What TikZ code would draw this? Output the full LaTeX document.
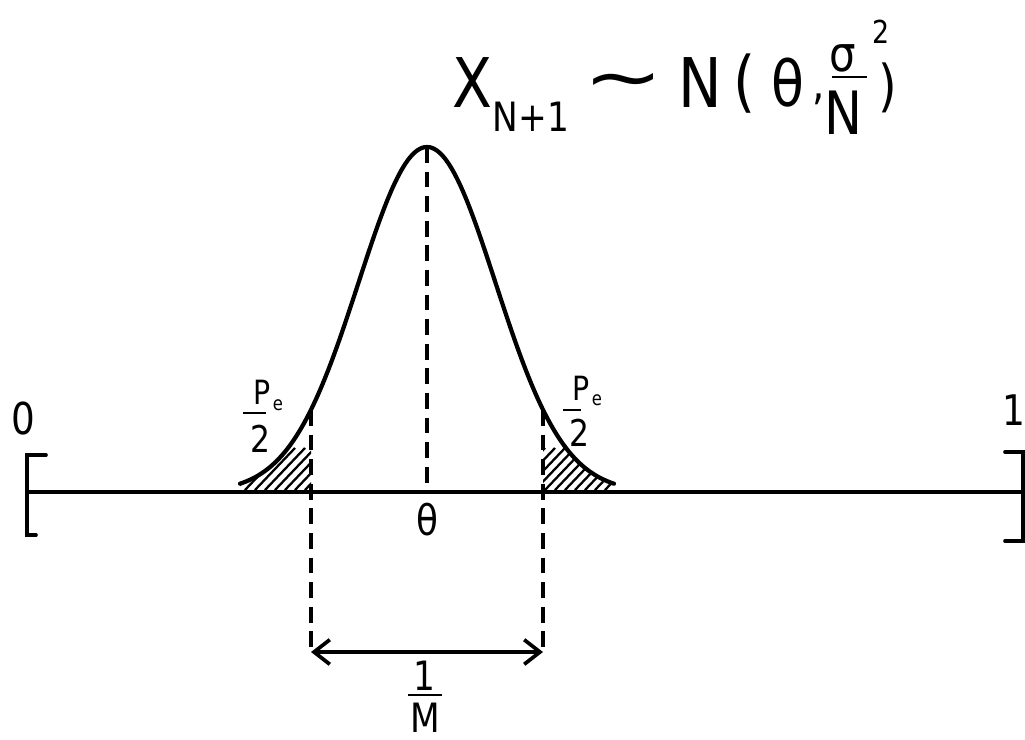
\documentclass[tikz,border=0pt]{standalone}
\usepackage{fontspec}
\setmainfont[FakeStretch=0.85]{DejaVu Sans}
\usetikzlibrary{arrows.meta}
\tikzset{
  ln/.style={line width=2.1pt, line cap=round},
  crv/.style={line width=2.4pt, line cap=round},
  dsh/.style={line width=1.9pt, dash pattern=on 9pt off 5pt},
  hatch/.style={line width=1.3pt},
  lbl/.style={inner sep=0pt, anchor=center},
}
\newcommand{\fs}[1]{\fontsize{#1}{#1}\selectfont}
\begin{document}
\begin{tikzpicture}[x=0.02cm, y=-0.02cm]
\useasboundingbox[fill=white] (0,0) rectangle (1025,740);
% axis and brackets
\coordinate (a0) at (27,492);
\coordinate (a1) at (1025,492);
\draw[ln] (a0) -- (a1);
\draw[ln] (46,455) -- (27,455) -- (27,535) -- (36,535);
\draw[ln] (1005,452) -- (1023,452) -- (1023,541);
\draw[ln] (1005,541) -- (1025,541);
\node[lbl, font=\fs{25}] (zero) at (23,419) {0};
\node[lbl, font=\fs{24}] (one) at (1014,410) {1};
% curve
\draw[crv] plot[domain=-187:187, samples=121, smooth] ({427+\x},{492-345*exp(-(\x/96.87)^2)});
% hatching
\begin{scope}
\clip plot[domain=-187:-116, samples=30, smooth] ({427+\x},{492-345*exp(-(\x/96.87)^2)}) -- (311,492) -- (240,492) -- cycle;
\foreach \i in {0,...,11} { \draw[hatch] ({205+10*\i},490) -- ({245+10*\i},448); }
\end{scope}
\begin{scope}
\clip plot[domain=116:187, samples=30, smooth] ({427+\x},{492-345*exp(-(\x/96.87)^2)}) -- (612,492) -- (543,492) -- cycle;
\foreach \i in {0,...,11} { \draw[hatch] ({505+10*\i},490) -- ({545+10*\i},448); }
\end{scope}
% dashed lines
\coordinate (peak) at (427,147);
\coordinate (th) at (427,492);
\coordinate (l1) at (311,410);
\coordinate (l2) at (311,652);
\coordinate (r1) at (543,410);
\coordinate (r2) at (543,652);
\draw[dsh] (peak) -- (th);
\draw[dsh] (l1) -- (l2);
\draw[dsh] (r1) -- (r2);
\draw[ln, {Straight Barb[length=9pt,width=14pt]}-{Straight Barb[length=9pt,width=14pt]}] (l2) -- (r2);
% labels
\node[lbl, font=\fs{24}] (theta) at (427,520) {θ};
\node[lbl, font=\fs{23}] (m1) at (424,676) {1};
\draw[line width=1.6pt] (408,695) -- (442,695);
\node[lbl, font=\fs{23}] (mM) at (425,718) {M};
% P_e/2 left
\node[lbl, font=\fs{19}] (pl) at (262,392) {P};
\node[lbl, font=\fs{11}] (el) at (278,405) {e};
\draw[line width=1.5pt] (243,413) -- (266,413);
\node[lbl, font=\fs{21}] (tl) at (260,439) {2};
% P_e/2 right
\node[lbl, font=\fs{19}] (pr) at (581,388) {P};
\node[lbl, font=\fs{11}] (er) at (597,400) {e};
\draw[line width=1.5pt] (563,410) -- (581,410);
\node[lbl, font=\fs{21}] (tr) at (579,433) {2};
% title
\node[lbl, font=\fs{39}] (tX) at (472,83) {X};
\node[lbl, font=\fs{23}] (tsub) at (531,117) {N+1};
\node[lbl, font=\fs{40}, xscale=1.6] (ttil) at (624,87) {∼};
\node[lbl, font=\fs{39}] (tN) at (700,83) {N};
\node[lbl, font=\fs{38}] (tpo) at (745,84) {(};
\node[lbl, font=\fs{36}] (tth) at (788,83) {θ};
\node[lbl, font=\fs{26}] (tcom) at (819,99) {,};
\node[lbl, font=\fs{28}] (tsig) at (843,58) {σ};
\node[lbl, font=\fs{18}] (tsq) at (881,32) {2};
\draw[line width=1.6pt] (832,77) -- (867,77);
\node[lbl, font=\fs{34}] (tden) at (843,113) {N};
\node[lbl, font=\fs{32}] (tpc) at (888,88) {)};
\end{tikzpicture}
\end{document}
